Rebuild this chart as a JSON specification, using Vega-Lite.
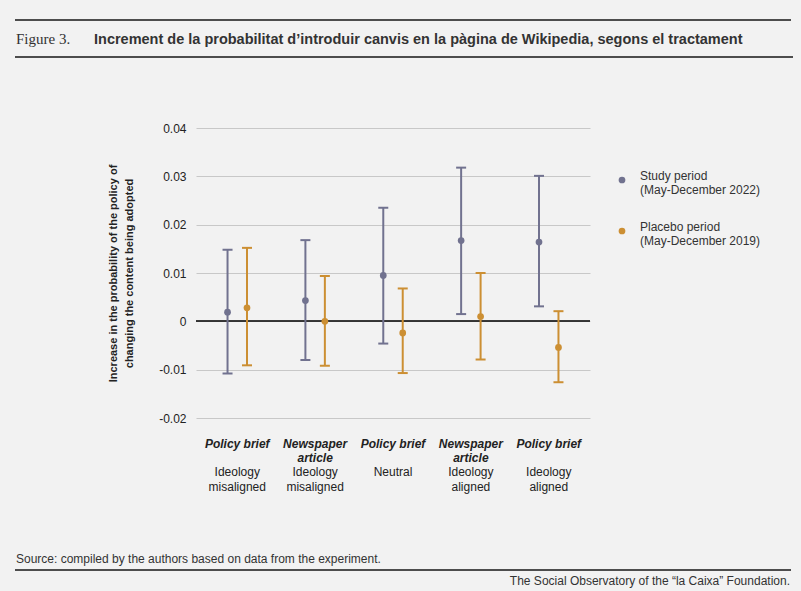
{
  "$schema": "https://vega.github.io/schema/vega-lite/v6.json",
  "background": "#f2f2f2",
  "padding": {"left": 15, "top": 19, "right": 11, "bottom": 4},
  "title": {"text": "The Social Observatory of the “la Caixa” Foundation.", "orient": "bottom", "anchor": "end", "font": "Liberation Sans", "fontSize": 12, "fontWeight": "normal", "color": "#333333", "offset": 5, "dx": -3},
  "spacing": 63,
  "vconcat": [
    {
      "spacing": 8,
      "vconcat": [
        {"width": 774, "height": 0.01, "data": {"values": []}, "mark": "point", "view": {"stroke": "#4d4d4d", "strokeWidth": 2}},
        {
          "spacing": 0,
          "hconcat": [
            {"width": 76, "height": 0.01, "data": {"values": []}, "mark": "point", "view": {"stroke": "#4d4d4d", "strokeWidth": 2},
             "title": {"text": "Figure 3.", "font": "Liberation Serif", "fontSize": 15, "fontWeight": "normal", "color": "#333333", "anchor": "start", "offset": 10}},
            {"width": 698, "height": 0.01, "data": {"values": []}, "mark": "point", "view": {"stroke": "#4d4d4d", "strokeWidth": 2},
             "title": {"text": "Increment de la probabilitat d’introduir canvis en la pàgina de Wikipedia, segons el tractament", "font": "Liberation Sans", "fontSize": 14.5, "fontWeight": "bold", "color": "#333333", "anchor": "start", "offset": 10}}
          ]
        }
      ]
    },
    {
      "spacing": 60,
      "vconcat": [
        {
          "spacing": 0,
          "hconcat": [
            {"width": 91, "height": 0.01, "data": {"values": []}, "mark": "point"},
            {
              "width": 394,
              "height": 290,
              "data": {"values": [
                {"group": "Policy brief – Ideology misaligned", "period": "Study period", "est": 0.0019, "lo": -0.0108, "hi": 0.0148},
                {"group": "Policy brief – Ideology misaligned", "period": "Placebo period", "est": 0.0028, "lo": -0.0091, "hi": 0.0152},
                {"group": "Newspaper article – Ideology misaligned", "period": "Study period", "est": 0.0043, "lo": -0.0080, "hi": 0.0168},
                {"group": "Newspaper article – Ideology misaligned", "period": "Placebo period", "est": 0.0000, "lo": -0.0092, "hi": 0.0094},
                {"group": "Policy brief – Neutral", "period": "Study period", "est": 0.0095, "lo": -0.0046, "hi": 0.0235},
                {"group": "Policy brief – Neutral", "period": "Placebo period", "est": -0.0024, "lo": -0.0107, "hi": 0.0068},
                {"group": "Newspaper article – Ideology aligned", "period": "Study period", "est": 0.0167, "lo": 0.0015, "hi": 0.0318},
                {"group": "Newspaper article – Ideology aligned", "period": "Placebo period", "est": 0.0010, "lo": -0.0079, "hi": 0.0100},
                {"group": "Policy brief – Ideology aligned", "period": "Study period", "est": 0.0164, "lo": 0.0031, "hi": 0.0301},
                {"group": "Policy brief – Ideology aligned", "period": "Placebo period", "est": -0.0054, "lo": -0.0126, "hi": 0.0021}
              ]},
              "resolve": {"axis": {"x": "independent"}},
              "layer": [
                {
                  "mark": {"type": "rule", "color": "#333333", "strokeWidth": 1.3},
                  "encoding": {
                    "y": {"datum": 0, "type": "quantitative", "scale": {"domain": [-0.02, 0.04], "nice": false, "zero": false},
                          "axis": {"title": ["Increase in the probability of the policy of", "changing the content being adopted"], "values": [-0.02, -0.01, 0, 0.01, 0.02, 0.03, 0.04],
                                   "labelExpr": "datum.value == 0 ? '0' : (datum.value < 0 ? '-' : '') + format(abs(datum.value), '.2f')"}}
                  }
                },
                {
                  "mark": {"type": "rule", "strokeWidth": 2},
                  "encoding": {
                    "x": {"field": "group", "type": "nominal", "sort": null, "scale": {"paddingInner": 0, "paddingOuter": 0.03},
                          "axis": {"orient": "bottom", "title": null, "labelPadding": 48, "labelLineHeight": 15,
                                   "labelExpr": "split(datum.label, ' – ')[1] == 'Neutral' ? 'Neutral' : split(split(datum.label, ' – ')[1], ' ')"}},
                    "xOffset": {"field": "period", "type": "nominal", "scale": {"domain": ["Study period", "Placebo period"], "paddingInner": 0, "paddingOuter": 1.24}},
                    "y": {"field": "lo", "type": "quantitative", "axis": {"title": ["Increase in the probability of the policy of", "changing the content being adopted"], "values": [-0.02, -0.01, 0, 0.01, 0.02, 0.03, 0.04],
                                   "labelExpr": "datum.value == 0 ? '0' : (datum.value < 0 ? '-' : '') + format(abs(datum.value), '.2f')"}},
                    "y2": {"field": "hi"},
                    "stroke": {"field": "period", "type": "nominal", "scale": {"range": ["#cc8f33", "#71728f"]}, "legend": null}
                  }
                },
                {
                  "transform": [{"fold": ["lo", "hi"], "as": ["bound", "value"]}],
                  "mark": {"type": "tick", "orient": "horizontal", "size": 10, "thickness": 2, "opacity": 1},
                  "encoding": {
                    "x": {"field": "group", "type": "nominal", "sort": null, "axis": null},
                    "xOffset": {"field": "period", "type": "nominal"},
                    "y": {"field": "value", "type": "quantitative", "axis": {"title": ["Increase in the probability of the policy of", "changing the content being adopted"], "values": [-0.02, -0.01, 0, 0.01, 0.02, 0.03, 0.04],
                                   "labelExpr": "datum.value == 0 ? '0' : (datum.value < 0 ? '-' : '') + format(abs(datum.value), '.2f')"}},
                    "fill": {"field": "period", "type": "nominal", "scale": {"range": ["#cc8f33", "#71728f"]}, "legend": null}
                  }
                },
                {
                  "mark": {"type": "point", "shape": "circle", "filled": true, "opacity": 1, "size": 45},
                  "encoding": {
                    "x": {"field": "group", "type": "nominal", "sort": null,
                          "axis": {"orient": "bottom", "title": null, "labelPadding": 20, "labelLineHeight": 14, "labelFontWeight": "bold", "labelFontStyle": "italic",
                                   "labelExpr": "split(datum.label, ' – ')[0] == 'Newspaper article' ? ['Newspaper', 'article'] : split(datum.label, ' – ')[0]"}},
                    "xOffset": {"field": "period", "type": "nominal"},
                    "y": {"field": "est", "type": "quantitative", "axis": {"title": ["Increase in the probability of the policy of", "changing the content being adopted"], "values": [-0.02, -0.01, 0, 0.01, 0.02, 0.03, 0.04],
                                   "labelExpr": "datum.value == 0 ? '0' : (datum.value < 0 ? '-' : '') + format(abs(datum.value), '.2f')"}},
                    "color": {"field": "period", "type": "nominal", "scale": {"domain": ["Study period", "Placebo period"], "range": ["#71728f", "#cc8f33"]},
                              "legend": {"orient": "none", "legendX": 600, "legendY": 154, "title": null, "symbolType": "circle", "symbolSize": 45,
                                         "labelBaseline": "alphabetic", "labelOffset": 12, "labelFontSize": 12, "labelColor": "#333333", "labelLimit": 300, "labelLineHeight": 16, "rowPadding": 25,
                                         "labelExpr": "datum.label == 'Study period' ? ['Study period', '(May-December 2022)'] : ['Placebo period', '(May-December 2019)']"}}
                  }
                }
              ]
            }
          ]
        },
        {"width": 774, "height": 0.01, "data": {"values": []}, "mark": "point", "view": {"stroke": "#4d4d4d", "strokeWidth": 2},
         "title": {"text": "Source: compiled by the authors based on data from the experiment.", "font": "Liberation Sans", "fontSize": 12, "fontWeight": "normal", "color": "#333333", "anchor": "start", "offset": 4}}
      ]
    }
  ],
  "config": {
    "font": "Liberation Sans",
    "view": {"stroke": null},
    "axis": {"labelFont": "Liberation Sans", "labelFontSize": 12, "labelColor": "#222222", "titleFont": "Liberation Sans"},
    "axisX": {"domain": false, "ticks": false, "grid": false, "labelAngle": 0, "labelOverlap": false},
    "axisY": {"domain": false, "ticks": false, "grid": true, "gridColor": "#c8c8c8", "gridWidth": 1, "labelPadding": 10,
              "titleFontSize": 11, "titleFontWeight": "bold", "titleColor": "#222222", "titlePadding": 24, "titleLineHeight": 16},
    "legend": {"labelFont": "Liberation Sans"}
  }
}
